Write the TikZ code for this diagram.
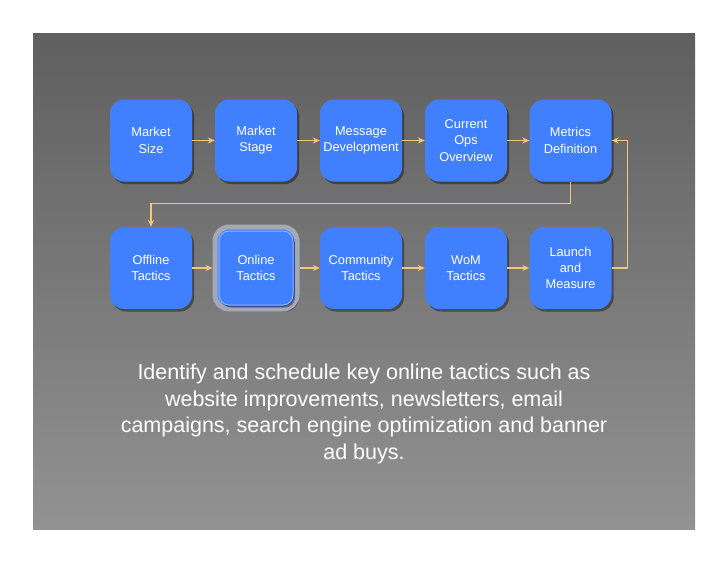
\documentclass[tikz,border=0pt]{standalone}
\usepackage{fontspec}
\setmainfont{Liberation Sans}
\usepackage{xcolor}
\definecolor{vizPanelTop}{HTML}{5F5F5F}
\definecolor{vizPanelBottom}{HTML}{929292}
\definecolor{vizStep}{HTML}{4080FF}
\definecolor{vizLink}{HTML}{F4C67C}
\definecolor{vizRim}{HTML}{A3A9B6}
\definecolor{vizRimInner}{HTML}{90B4FF}
\usetikzlibrary{shadows,arrows.meta}

\begin{document}
\begin{tikzpicture}[x=1pt, y=-1pt,
  stepbox/.style={rectangle, rounded corners=14pt, fill=vizStep, draw=none,
    minimum width=82pt, minimum height=82pt, inner sep=0pt, align=center,
    text=white, font=\fontsize{12.8}{16.3}\selectfont,
    drop shadow={shadow xshift=2pt, shadow yshift=-2.5pt, opacity=0.4, fill=black}},
  link/.style={vizLink, line width=1.1pt, -{Stealth[length=7pt, width=6pt]}}]
  \useasboundingbox (0,0) rectangle (728,563);
  \fill[white] (0,0) rectangle (728,563);
  \shade[top color=vizPanelTop, bottom color=vizPanelBottom] (33,33) rectangle (695,529);
  \node[stepbox] (size) at (151,140.5) {Market\\Size};
  \node[stepbox] (stage) at (256,140.5) {Market\\Stage};
  \node[stepbox] (message) at (361,140.5) {Message\\Development};
  \node[stepbox] (ops) at (466,140.5) {Current\\Ops\\Overview};
  \node[stepbox] (metrics) at (570.5,140.5) {Metrics\\Definition};
  \node[stepbox] (offline) at (151,268) {Offline\\Tactics};
  \node[stepbox, draw=vizRim, line width=5pt] (online) at (256,268) {};
  \node[stepbox, drop shadow={opacity=0}, draw=vizRimInner, line width=1pt,
    minimum width=74pt, minimum height=74pt, rounded corners=10pt] (onlineinner) at (online.center) {Online\\Tactics};
  \node[stepbox] (community) at (361,268) {Community\\Tactics};
  \node[stepbox] (wom) at (466,268) {WoM\\Tactics};
  \node[stepbox] (launch) at (570.5,268) {Launch\\and\\Measure};
  \draw[link] (size) -- (stage);
  \draw[link] (stage) -- (message);
  \draw[link] (message) -- (ops);
  \draw[link] (ops) -- (metrics);
  \draw[link] (metrics.south) -- ++(0,22) -| (offline.north);
  \draw[link] (offline) -- (online);
  \draw[link] (online) -- (community);
  \draw[link] (community) -- (wom);
  \draw[link] (wom) -- (launch);
  \draw[link] (launch.east) -- ++(16,0) |- (metrics.east);
  \node[text=white, align=center, font=\fontsize{21.5}{26.7}\selectfont] (caption) at (364,414)
    {Identify and schedule key online tactics such as\\website improvements, newsletters, email\\campaigns, search engine optimization and banner\\ad buys.};
\end{tikzpicture}
\end{document}
